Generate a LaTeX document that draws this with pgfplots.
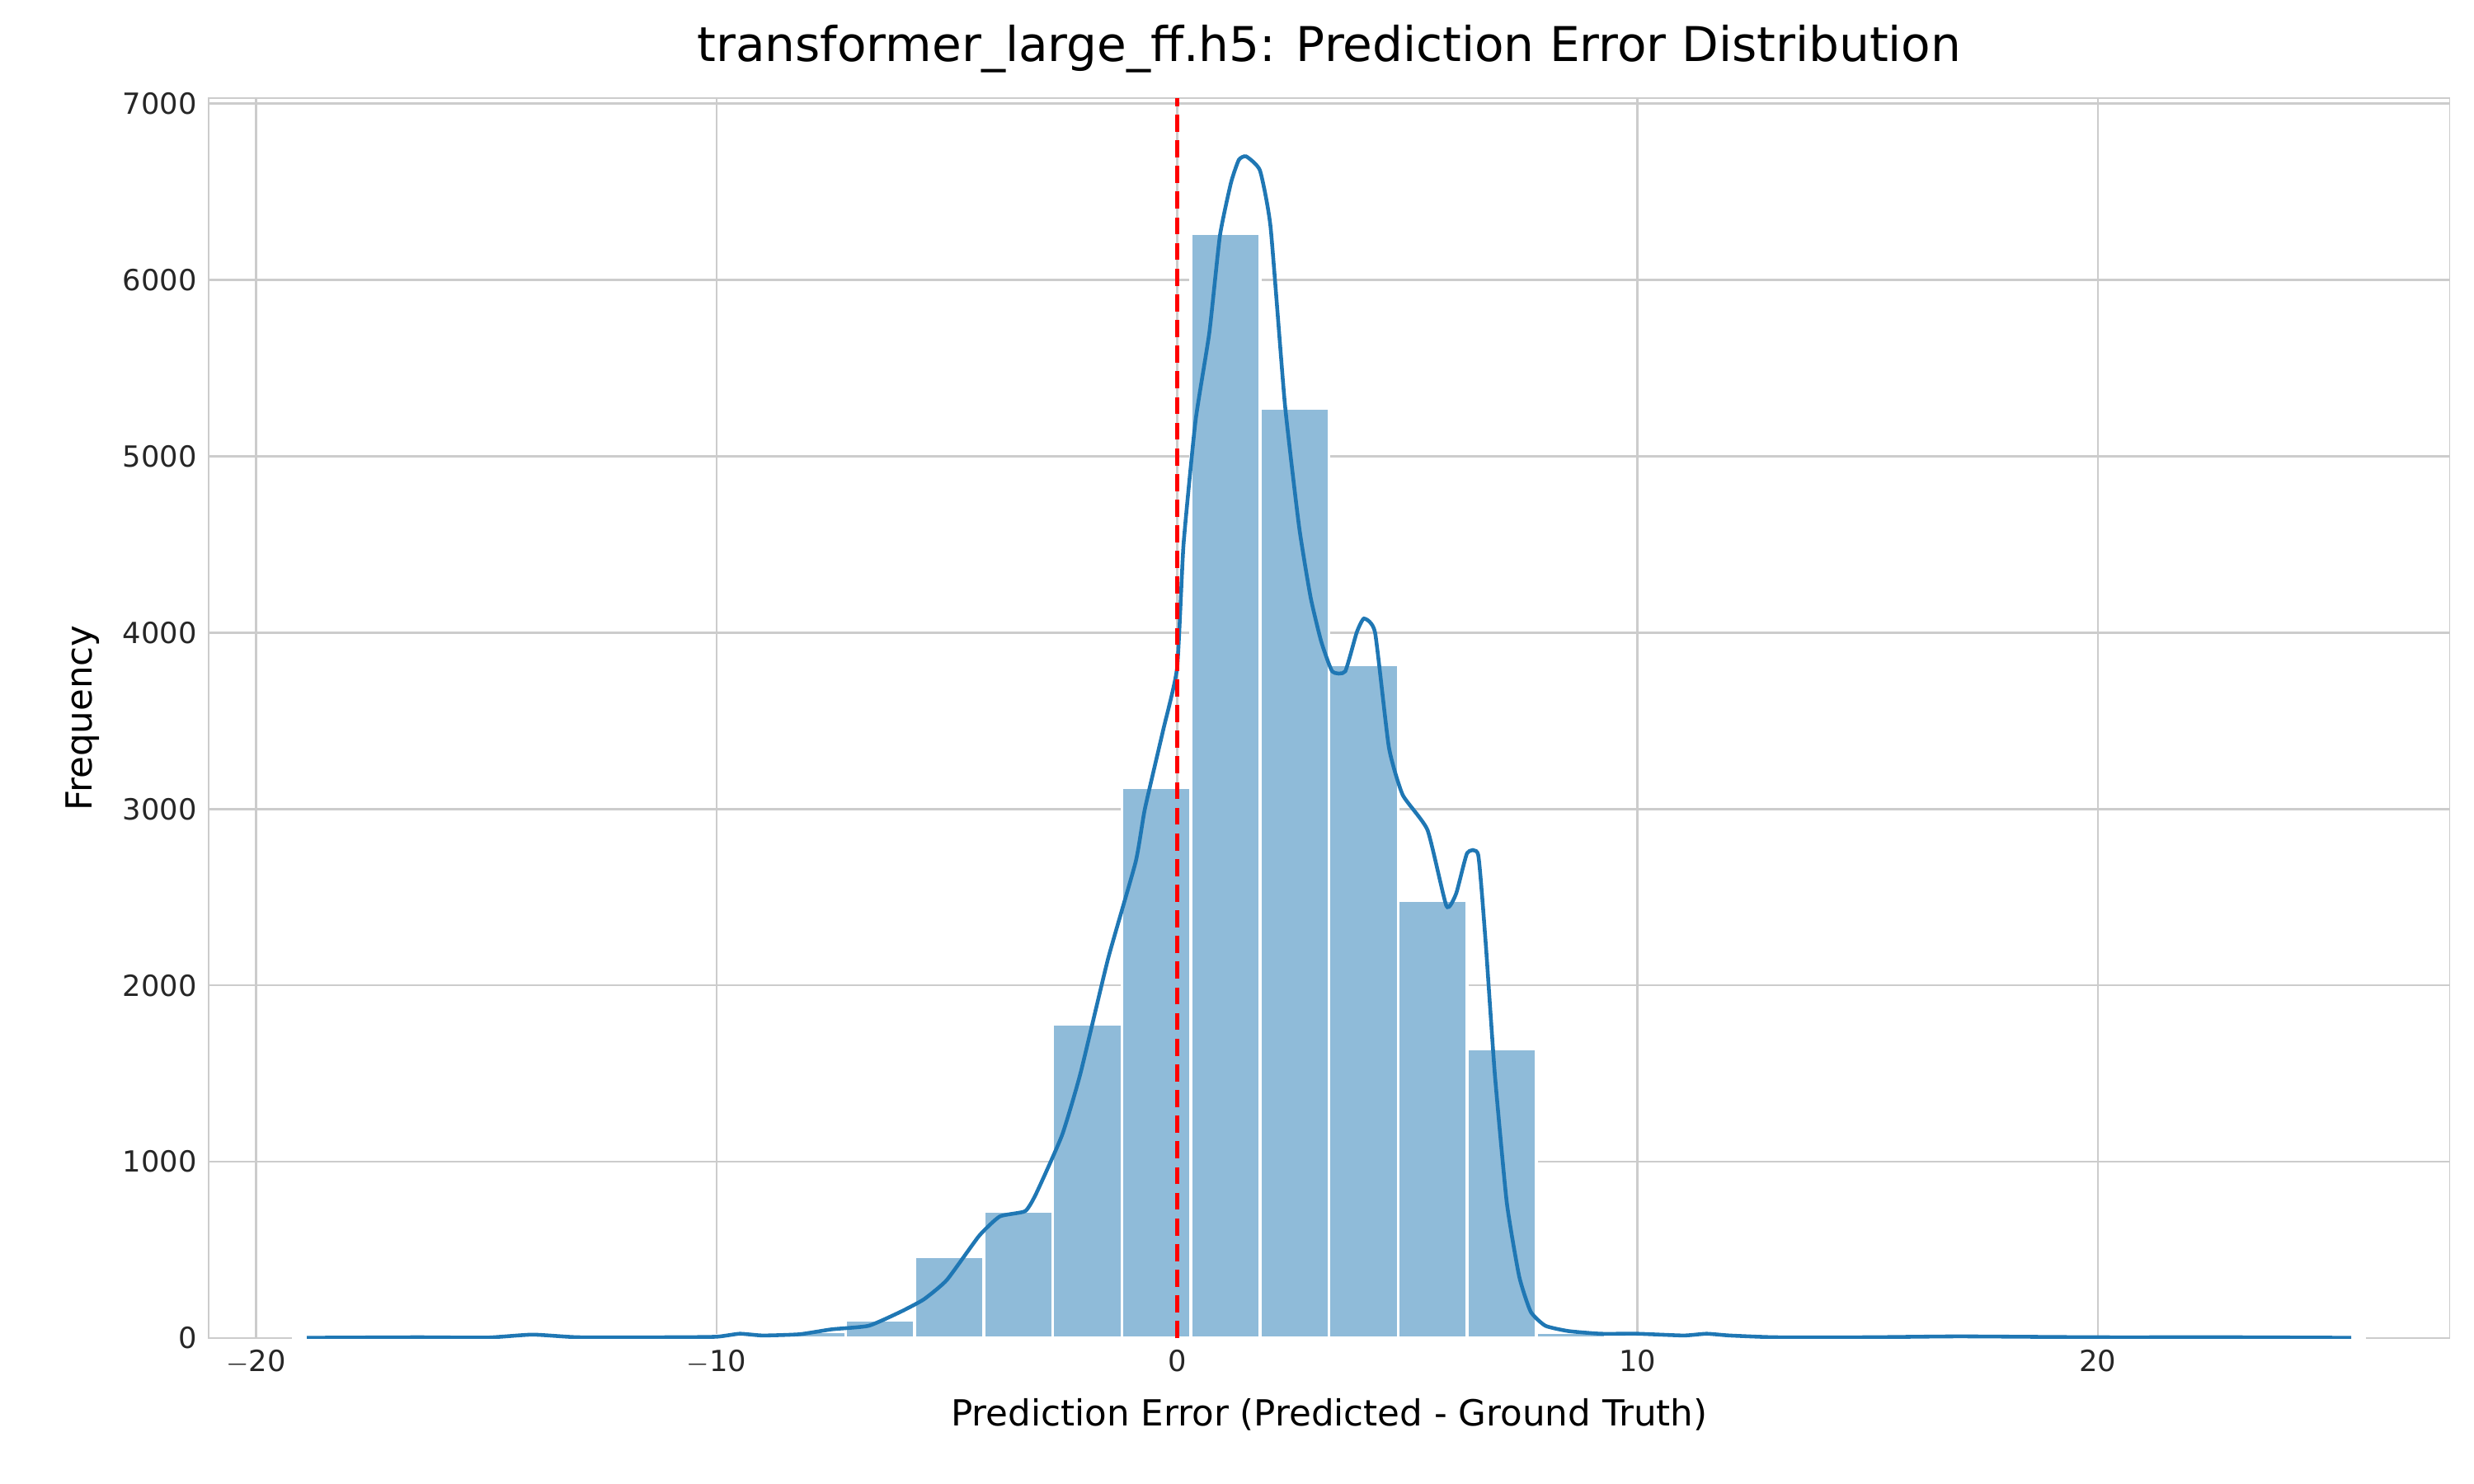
\documentclass[border=0pt]{standalone}
\usepackage{pgfplots}
\pgfplotsset{compat=1.18}
\usepackage{fontspec}
\setmainfont{DejaVu Sans}
\definecolor{gridc}{RGB}{204,204,204}
\definecolor{kde}{RGB}{31,119,180}
\definecolor{barc}{RGB}{143,187,217}
\begin{document}
\begin{tikzpicture}
\path (0,0) rectangle (722.7pt,433.6pt);
\begin{axis}[at={(61pt,42.6pt)}, anchor=south west,
 width=654.6pt, height=362.3pt, scale only axis,
 xmin=-21.03, xmax=27.64, ymin=0, ymax=7030,
 axis line style={gridc}, major tick length=0pt,
 grid=major, grid style={gridc, line width=0.6pt},
 xtick={-20,-10,0,10,20}, ytick={0,1000,...,7000},
 /pgf/number format/assume math mode=true,
 /pgf/number format/1000 sep={},
 xticklabels={$-$20,$-$10,0,10,20},
 tick label style={font=\fontsize{8.5}{10}\selectfont, text=black!85},
 xlabel={Prediction Error (Predicted - Ground Truth)},
 ylabel={Frequency},
 label style={font=\fontsize{10.5}{12}\selectfont},
 title={transformer\_large\_ff.h5: Prediction Error Distribution},
 title style={font=\fontsize{14}{16}\selectfont, yshift=-2pt},
 axis on top=false]
\addplot[ybar interval, fill=barc, draw=white, line width=0.8pt] coordinates {
(-19.2,5)(-17.7,5)(-16.2,5)(-14.7,12)(-13.2,5)(-11.7,5)(-10.2,18)(-8.7,35)
(-7.2,100)(-5.7,460)(-4.2,720)(-2.7,1780)(-1.2,3120)(0.3,6260)(1.8,5270)
(3.3,3820)(4.8,2480)(6.3,1640)(7.8,30)(9.3,15)(10.8,15)(12.3,5)(13.8,5)
(15.3,5)(16.8,5)(18.3,5)(19.8,5)(21.3,5)(22.8,5)(24.3,5)(25.8,5)};
\addplot[kde, line width=1.1pt, smooth, tension=0.3] coordinates {
(-18.9,2)(-16.5,5)(-15,3)(-14,20)(-13,5)(-11,5)(-10,8)(-9.5,25)(-9,15)(-8.2,22)
(-7.5,50)(-6.7,70)(-6,150)(-5.5,220)(-5,330)(-4.3,580)(-3.85,690)(-3.3,720)
(-3.06,820)(-2.5,1150)(-2.1,1500)(-1.5,2150)(-0.9,2700)(-0.7,3000)(-0.3,3450)(0,3800)
(0.14,4500)(0.4,5200)(0.7,5700)(0.93,6250)(1.17,6550)(1.34,6680)(1.5,6700)
(1.8,6620)(2.03,6300)(2.34,5300)(2.65,4600)(2.9,4200)(3.13,3950)(3.37,3780)
(3.65,3780)(3.9,4000)(4.06,4080)(4.3,4000)(4.6,3350)(4.9,3080)(5.44,2880)
(5.85,2450)(6.06,2520)(6.3,2750)(6.54,2740)(6.7,2250)(6.9,1500)(7.16,770)
(7.43,350)(7.68,150)(8.0,70)(8.5,40)(9.2,25)(10,25)(11,15)(11.5,25)(12,15)
(13,5)(15,5)(17,10)(20,5)(23,5)(25.5,2)};
\addplot[red, dashed, line width=1.2pt, dash pattern=on 5pt off 2.5pt] coordinates {(0,0)(0,7030)};
\end{axis}
\end{tikzpicture}
\end{document}
